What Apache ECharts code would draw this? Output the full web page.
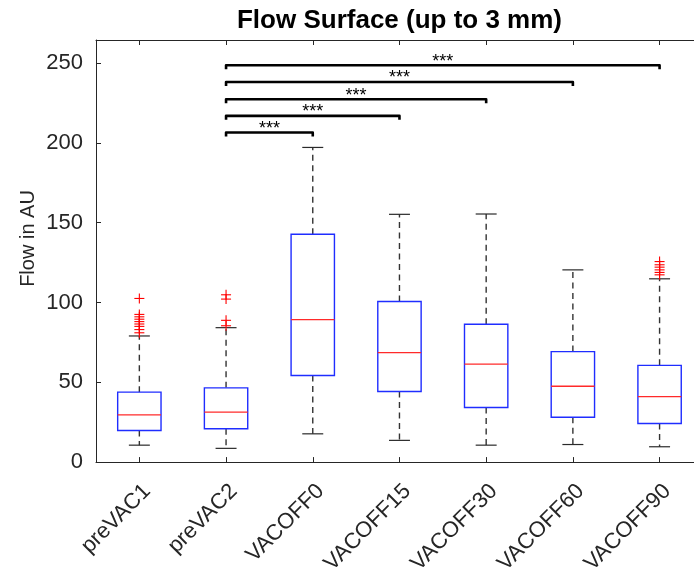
<!DOCTYPE html>
<html><head><meta charset="utf-8">
<script src="https://cdn.jsdelivr.net/npm/echarts@6/dist/echarts.min.js"></script>
<style>html,body{margin:0;padding:0;background:#fff}#c{width:694px;height:577px}</style>
</head><body><div id="c"></div>
<script>
const categories = ['preVAC1','preVAC2','VACOFF0','VACOFF15','VACOFF30','VACOFF60','VACOFF90'];
const whiskerLow  = [10.6, 8.6, 17.7, 13.6, 10.6, 11.0, 9.6];
const q1          = [19.8, 20.9, 54.2, 44.2, 34.2, 28.1, 24.2];
const median      = [29.6, 31.3, 89.2, 68.6, 61.3, 47.5, 41.0];
const q3          = [43.8, 46.5, 142.7, 100.6, 86.3, 69.2, 60.6];
const whiskerHigh = [79.0, 84.2, 197.1, 155.2, 155.4, 120.4, 114.8];
const outlierGroup = [0,0,0,0,0,0,0,0,0, 1,1,1,1, 6,6,6,6,6,6];
const outlierValue = [102.5,92.5,91.0,89.5,88.0,86.5,85.0,83.0,81.0, 104.8,102.1,88.8,85.4, 125.6,123.6,122.1,120.4,118.8,117.3];
const bracketFrom  = [1,1,1,1,1];
const bracketTo    = [2,3,4,5,6];
const bracketLevel = [206.5,216.9,227.3,238.1,248.6];
const bracketText  = ['***','***','***','***','***'];
const yTicks = [0,50,100,150,200,250];
const xPositions = [0,1,2,3,4,5,6];

const FONT = '"Liberation Sans", Arial, Helvetica, sans-serif';
const AX = '#262626';

const boxData = categories.map((c,i)=>[xPositions[i], whiskerLow[i], q1[i], median[i], q3[i], whiskerHigh[i]]);
const outData = outlierGroup.map((g,i)=>[xPositions[g], outlierValue[i]]);
const brData = bracketFrom.map((f,i)=>[xPositions[f], xPositions[bracketTo[i]], bracketLevel[i]]);

const chart = echarts.init(document.getElementById('c'), null, {renderer:'canvas'});
const xCommon = {type:'value', min:-0.5, max:6.397,
  axisLine:{show:true, onZero:false, lineStyle:{color:AX, width:1}},
  axisTick:{show:true, inside:true, length:5, customValues:xPositions, lineStyle:{color:AX}},
  splitLine:{show:false}};
chart.setOption({
  animation:false,
  backgroundColor:'#fff',
  grid:{left:96, top:40, right:0, height:423, containLabel:false},
  graphic:[
    {type:'text', x:399.5, y:21, style:{text:'Flow Surface (up to 3 mm)', font:'bold 26px '+FONT, fill:'#000', align:'center', verticalAlign:'middle'}},
    {type:'text', x:28, y:238.5, rotation:Math.PI/2, style:{text:'Flow in AU', font:'20px '+FONT, fill:AX, align:'center', verticalAlign:'middle'}}
  ],
  xAxis:[
    Object.assign({}, xCommon, {position:'bottom',
     axisLabel:{show:true, customValues:xPositions, rotate:45, margin:18, align:'right', verticalAlign:'top', fontSize:22, fontFamily:FONT, color:AX,
       formatter:v=>categories[xPositions.indexOf(v)] || ''}}),
    Object.assign({}, xCommon, {position:'top', axisLabel:{show:false}})
  ],
  yAxis:{type:'value', min:0, max:264.4, interval:50,
     axisLine:{show:true, onZero:false, lineStyle:{color:AX, width:1}},
     axisTick:{show:true, inside:true, length:5, lineStyle:{color:AX}},
     axisLabel:{fontSize:22, fontFamily:FONT, color:AX, margin:13, showMaxLabel:false,
       formatter:v=> yTicks.indexOf(v)>=0 ? String(v) : ''},
     splitLine:{show:false}},
  series:[
    {type:'custom', xAxisIndex:0, data:boxData, encode:{x:0, y:[1,2,3,4,5]},
     renderItem:(params, api)=>{
       const x = api.value(0);
       const lo = api.coord([x, api.value(1)]);
       const b1 = api.coord([x, api.value(2)]);
       const md = api.coord([x, api.value(3)]);
       const b3 = api.coord([x, api.value(4)]);
       const hi = api.coord([x, api.value(5)]);
       const bw = api.size([1,0])[0];
       const half = bw*0.25, cap = bw*0.121, cx = lo[0];
       const dash = {stroke:'#333333', lineWidth:1.4, lineDash:[6,4.5]};
       const solid = {stroke:'#2a2a2a', lineWidth:1.2};
       return {type:'group', children:[
         {type:'line', shape:{x1:cx,y1:b3[1],x2:cx,y2:hi[1]}, style:dash},
         {type:'line', shape:{x1:cx,y1:b1[1],x2:cx,y2:lo[1]}, style:dash},
         {type:'line', shape:{x1:cx-cap,y1:hi[1],x2:cx+cap,y2:hi[1]}, style:solid},
         {type:'line', shape:{x1:cx-cap,y1:lo[1],x2:cx+cap,y2:lo[1]}, style:solid},
         {type:'rect', shape:{x:cx-half,y:b3[1],width:2*half,height:b1[1]-b3[1]}, style:{fill:'#fff', stroke:'#1f2dff', lineWidth:1.4}},
         {type:'line', shape:{x1:cx-half,y1:md[1],x2:cx+half,y2:md[1]}, style:{stroke:'#ff2a2a', lineWidth:1.3}}
       ]};
     }},
    {type:'custom', xAxisIndex:0, data:outData, encode:{x:0, y:1}, z:3,
     renderItem:(params, api)=>{
       const p = api.coord([api.value(0), api.value(1)]);
       const s = 5;
       return {type:'group', children:[
         {type:'line', shape:{x1:p[0]-s,y1:p[1],x2:p[0]+s,y2:p[1]}, style:{stroke:'#ff0000', lineWidth:1.1}},
         {type:'line', shape:{x1:p[0],y1:p[1]-s,x2:p[0],y2:p[1]+s}, style:{stroke:'#ff0000', lineWidth:1.1}}
       ]};
     }},
    {type:'custom', xAxisIndex:0, data:brData, encode:{x:[0,1], y:2}, z:4,
     renderItem:(params, api)=>{
       const a = api.coord([api.value(0), api.value(2)]);
       const b = api.coord([api.value(1), api.value(2)]);
       return {type:'group', children:[
         {type:'polyline', shape:{points:[[a[0],a[1]+4],[a[0],a[1]],[b[0],b[1]],[b[0],b[1]+4]]},
          style:{stroke:'#000', lineWidth:2.6, fill:null, lineJoin:'round'}},
         {type:'text', x:(a[0]+b[0])/2, y:a[1]-3.5, style:{text:bracketText[params.dataIndex], font:'18px '+FONT, fill:'#000', align:'center', verticalAlign:'middle'}}
       ]};
     }}
  ]
});
</script></body></html>
